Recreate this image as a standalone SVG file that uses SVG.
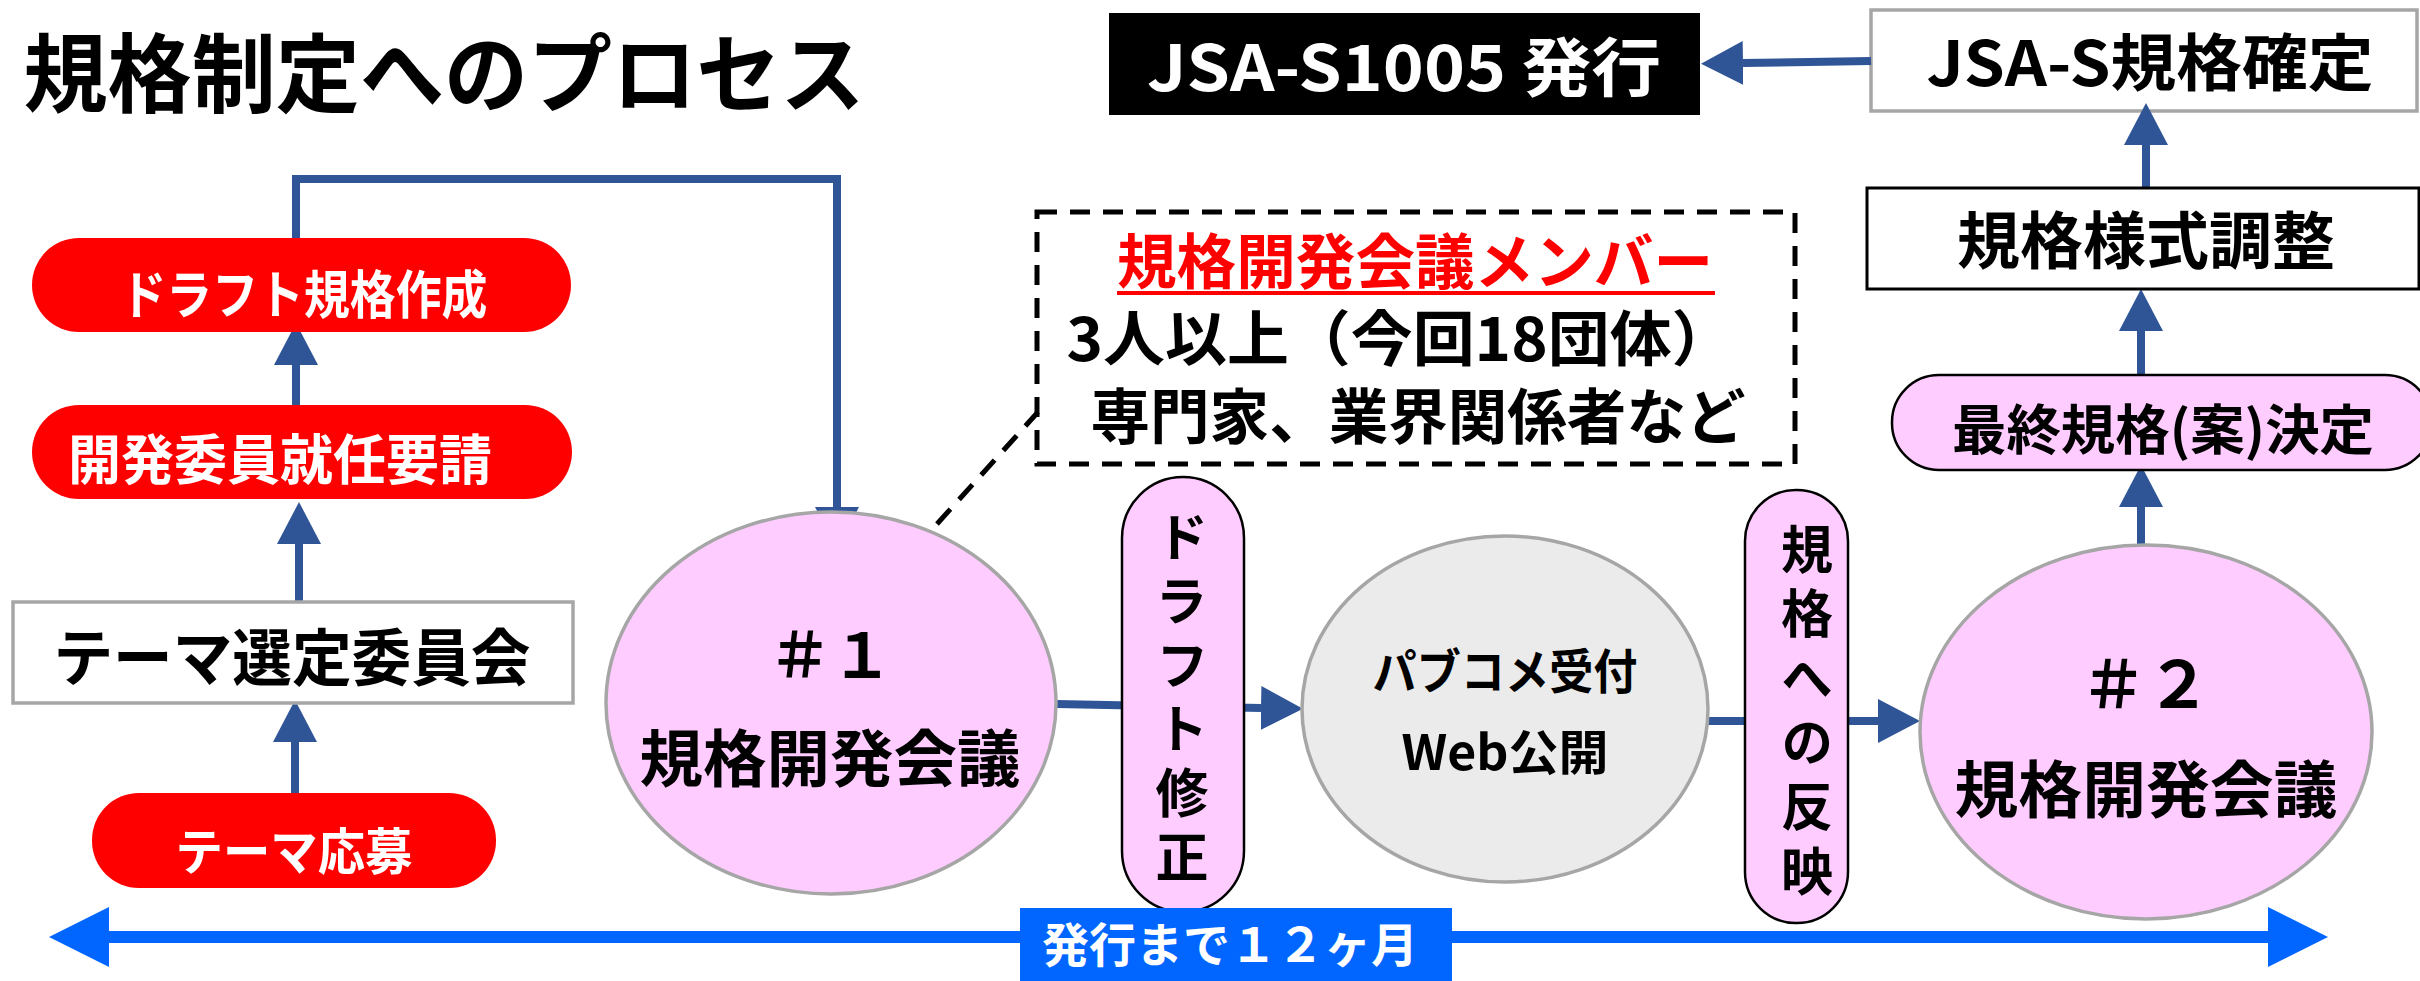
<svg xmlns="http://www.w3.org/2000/svg" width="2420" height="981" viewBox="0 0 2420 981">
<defs>
<style>
text{font-family:"Noto Sans CJK JP","Noto Sans",sans-serif;font-weight:bold;text-anchor:middle}
text.v{writing-mode:vertical-rl;text-anchor:start}
.w{fill:#fff}.k{fill:#000}.r{fill:#ff0000}
.redpill{fill:#ff0000}
.pinkpill{fill:#ffccff;stroke:#000;stroke-width:2.5}
.pinkell{fill:#ffccff;stroke:#a6a6a6;stroke-width:3.5}
.grayell{fill:#ebebeb;stroke:#a6a6a6;stroke-width:3.5}
.gbox{fill:#fff;stroke:#a6a6a6;stroke-width:3.5}
.kbox{fill:#fff;stroke:#000;stroke-width:3}
.conn{fill:none;stroke:#2f5597;stroke-width:8;marker-end:url(#ah)}
.tl{fill:none;stroke:#0066ff;stroke-width:12;marker-start:url(#tah);marker-end:url(#tah)}
.dash{fill:none;stroke:#000;stroke-width:5;stroke-dasharray:20 13}
</style>
<marker id="ah" viewBox="0 0 42 44" markerWidth="42" markerHeight="44" refX="0" refY="22" markerUnits="userSpaceOnUse" orient="auto"><path d="M0,0 L42,22 L0,44 Z" fill="#2f5597"/></marker>
<marker id="tah" viewBox="0 0 60 60" markerWidth="60" markerHeight="60" refX="0" refY="30" markerUnits="userSpaceOnUse" orient="auto-start-reverse"><path d="M0,0 L60,30 L0,60 Z" fill="#0066ff"/></marker>
</defs>
<rect width="2420" height="981" fill="#fff"/>

<g id="title"><text class="k" x="444" y="106" font-size="86" textLength="841" lengthAdjust="spacingAndGlyphs">規格制定へのプロセス</text></g>

<g id="node-jsa-confirm"><rect class="gbox" x="1871" y="10" width="546" height="101"/><text class="k" x="2150" y="86" font-size="62" textLength="447" lengthAdjust="spacingAndGlyphs">JSA-S規格確定</text></g>

<g id="connectors">
<path class="conn" d="M295,793 V742"/>
<path class="conn" d="M299,602 V544"/>
<path class="conn" d="M296,405 V365"/>
<path class="conn" d="M296,238 V179 H837 V507"/>
<path class="conn" d="M1056,704 L1261,708"/>
<path class="conn" d="M1708,721 H1878"/>
<path class="conn" d="M2141,546 V507"/>
<path class="conn" d="M2141,375 V331"/>
<path class="conn" d="M2146,187 V145"/>
<path class="conn" d="M1871,61 L1743,63"/>
<path class="dash" d="M937,524 L1038,412"/>
<path class="tl" d="M109,937 H2268"/>
</g>

<g id="node-jsa-publish"><rect x="1109" y="13" width="591" height="102" fill="#000"/><text class="w" x="1404" y="91" font-size="64" textLength="514" lengthAdjust="spacingAndGlyphs">JSA-S1005 発行</text></g>

<g id="node-format"><rect class="kbox" x="1867" y="188" width="552" height="101"/><text class="k" x="2146" y="264" font-size="62" textLength="378" lengthAdjust="spacingAndGlyphs">規格様式調整</text></g>

<g id="node-final"><rect class="pinkpill" x="1892" y="375" width="540" height="95" rx="47"/><text class="k" x="2163" y="450" font-size="54" textLength="422" lengthAdjust="spacingAndGlyphs">最終規格(案)決定</text></g>

<g id="node-meeting2"><ellipse class="pinkell" cx="2146" cy="732" rx="226" ry="187"/><text class="k" x="2146" y="708" font-size="65">＃２</text><text class="k" x="2146" y="813" font-size="62" textLength="383" lengthAdjust="spacingAndGlyphs">規格開発会議</text></g>

<g id="node-reflect"><rect class="pinkpill" x="1745" y="490" width="103" height="433" rx="51"/>
<text class="k v" x="1807" y="523" font-size="52" letter-spacing="12.4">規格への反映</text></g>

<g id="node-pubcomment"><ellipse class="grayell" cx="1505" cy="709" rx="203" ry="173"/><text class="k" x="1505" y="689" font-size="48" textLength="265" lengthAdjust="spacingAndGlyphs">パブコメ受付</text><text class="k" x="1505" y="770" font-size="48" textLength="207" lengthAdjust="spacingAndGlyphs">Web公開</text></g>

<g id="node-draftfix"><rect class="pinkpill" x="1122" y="477" width="122" height="435" rx="61"/>
<text class="k v" x="1182" y="510" font-size="53" letter-spacing="11">ドラフト修正</text></g>

<g id="node-meeting1"><ellipse class="pinkell" cx="831" cy="703" rx="225" ry="191"/><text class="k" x="831" y="678" font-size="62">＃１</text><text class="k" x="830" y="782" font-size="62" textLength="381" lengthAdjust="spacingAndGlyphs">規格開発会議</text></g>

<g id="node-members"><rect class="dash" x="1037" y="212" width="758" height="252"/>
<text class="r" x="1415" y="284" font-size="60" textLength="596" lengthAdjust="spacingAndGlyphs">規格開発会議メンバー</text>
<rect x="1117" y="291" width="598" height="4" fill="#ff0000"/>
<text class="k" x="1400" y="361" font-size="60" textLength="667" lengthAdjust="spacingAndGlyphs">3人以上（今回18団体）</text>
<text class="k" x="1418" y="439" font-size="60" textLength="655" lengthAdjust="spacingAndGlyphs">専門家、業界関係者など</text></g>

<g id="node-draft"><rect class="redpill" x="32" y="238" width="539" height="94" rx="47"/><text class="w" x="304" y="314" font-size="52" textLength="367" lengthAdjust="spacingAndGlyphs">ドラフト規格作成</text></g>

<g id="node-request"><rect class="redpill" x="32" y="405" width="540" height="94" rx="47"/><text class="w" x="280" y="480" font-size="54" textLength="424" lengthAdjust="spacingAndGlyphs">開発委員就任要請</text></g>

<g id="node-theme-committee"><rect class="gbox" x="13" y="602" width="560" height="101"/><text class="k" x="292" y="681" font-size="62" textLength="477" lengthAdjust="spacingAndGlyphs">テーマ選定委員会</text></g>

<g id="node-theme-apply"><rect class="redpill" x="92" y="793" width="404" height="95" rx="47"/><text class="w" x="294" y="870" font-size="50" textLength="237" lengthAdjust="spacingAndGlyphs">テーマ応募</text></g>

<g id="timeline-label"><rect x="1020" y="908" width="432" height="73" fill="#0066ff"/><text class="w" x="1230" y="962" font-size="47">発行まで１２ヶ月</text></g>
</svg>
